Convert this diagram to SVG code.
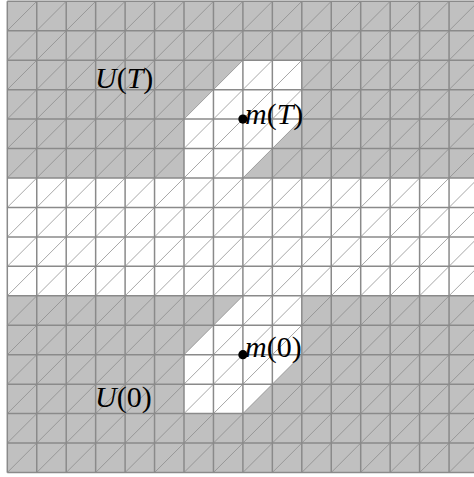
<svg xmlns="http://www.w3.org/2000/svg" width="474" height="477" viewBox="0 0 474 477">
  <style>
    .grid line { stroke: #8a8a8a; stroke-width: 1.5; vector-effect: non-scaling-stroke; }
    .diag line { stroke: #8a8a8a; stroke-width: 0.75; vector-effect: non-scaling-stroke; }
    .lbl { font-family: "Liberation Serif", "Times New Roman", serif; font-size: 30px; fill: #000; }
    .it { font-style: italic; }
  </style>
  <rect width="474" height="477" fill="#ffffff"/>
  <g id="mesh" transform="translate(7.3,1.3) scale(29.45)">
    <rect x="0" y="0" width="16" height="16" fill="#c0c0c0"/>
    <rect id="band" x="0" y="6" width="16" height="4" fill="#ffffff"/>
    <polygon id="region-T" points="8,2 10,2 10,4 8,6 6,6 6,4" fill="#ffffff"/>
    <polygon id="region-0" points="8,10 10,10 10,12 8,14 6,14 6,12" fill="#ffffff"/>
    <g class="diag">
      <line x1="0" y1="1" x2="1" y2="0"/>
      <line x1="0" y1="2" x2="2" y2="0"/>
      <line x1="0" y1="3" x2="3" y2="0"/>
      <line x1="0" y1="4" x2="4" y2="0"/>
      <line x1="0" y1="5" x2="5" y2="0"/>
      <line x1="0" y1="6" x2="6" y2="0"/>
      <line x1="0" y1="7" x2="7" y2="0"/>
      <line x1="0" y1="8" x2="8" y2="0"/>
      <line x1="0" y1="9" x2="9" y2="0"/>
      <line x1="0" y1="10" x2="10" y2="0"/>
      <line x1="0" y1="11" x2="11" y2="0"/>
      <line x1="0" y1="12" x2="12" y2="0"/>
      <line x1="0" y1="13" x2="13" y2="0"/>
      <line x1="0" y1="14" x2="14" y2="0"/>
      <line x1="0" y1="15" x2="15" y2="0"/>
      <line x1="0" y1="16" x2="16" y2="0"/>
      <line x1="1" y1="16" x2="16" y2="1"/>
      <line x1="2" y1="16" x2="16" y2="2"/>
      <line x1="3" y1="16" x2="16" y2="3"/>
      <line x1="4" y1="16" x2="16" y2="4"/>
      <line x1="5" y1="16" x2="16" y2="5"/>
      <line x1="6" y1="16" x2="16" y2="6"/>
      <line x1="7" y1="16" x2="16" y2="7"/>
      <line x1="8" y1="16" x2="16" y2="8"/>
      <line x1="9" y1="16" x2="16" y2="9"/>
      <line x1="10" y1="16" x2="16" y2="10"/>
      <line x1="11" y1="16" x2="16" y2="11"/>
      <line x1="12" y1="16" x2="16" y2="12"/>
      <line x1="13" y1="16" x2="16" y2="13"/>
      <line x1="14" y1="16" x2="16" y2="14"/>
      <line x1="15" y1="16" x2="16" y2="15"/>
    </g>
    <g class="grid">
      <line x1="0" y1="0" x2="0" y2="16"/>
      <line x1="1" y1="0" x2="1" y2="16"/>
      <line x1="2" y1="0" x2="2" y2="16"/>
      <line x1="3" y1="0" x2="3" y2="16"/>
      <line x1="4" y1="0" x2="4" y2="16"/>
      <line x1="5" y1="0" x2="5" y2="16"/>
      <line x1="6" y1="0" x2="6" y2="16"/>
      <line x1="7" y1="0" x2="7" y2="16"/>
      <line x1="8" y1="0" x2="8" y2="16"/>
      <line x1="9" y1="0" x2="9" y2="16"/>
      <line x1="10" y1="0" x2="10" y2="16"/>
      <line x1="11" y1="0" x2="11" y2="16"/>
      <line x1="12" y1="0" x2="12" y2="16"/>
      <line x1="13" y1="0" x2="13" y2="16"/>
      <line x1="14" y1="0" x2="14" y2="16"/>
      <line x1="15" y1="0" x2="15" y2="16"/>
      <line x1="16" y1="0" x2="16" y2="16"/>
      <line x1="0" y1="0" x2="16" y2="0"/>
      <line x1="0" y1="1" x2="16" y2="1"/>
      <line x1="0" y1="2" x2="16" y2="2"/>
      <line x1="0" y1="3" x2="16" y2="3"/>
      <line x1="0" y1="4" x2="16" y2="4"/>
      <line x1="0" y1="5" x2="16" y2="5"/>
      <line x1="0" y1="6" x2="16" y2="6"/>
      <line x1="0" y1="7" x2="16" y2="7"/>
      <line x1="0" y1="8" x2="16" y2="8"/>
      <line x1="0" y1="9" x2="16" y2="9"/>
      <line x1="0" y1="10" x2="16" y2="10"/>
      <line x1="0" y1="11" x2="16" y2="11"/>
      <line x1="0" y1="12" x2="16" y2="12"/>
      <line x1="0" y1="13" x2="16" y2="13"/>
      <line x1="0" y1="14" x2="16" y2="14"/>
      <line x1="0" y1="15" x2="16" y2="15"/>
      <line x1="0" y1="16" x2="16" y2="16"/>
    </g>
  </g>
  <g id="label-UT">
    <text class="lbl" x="95" y="88"><tspan class="it">U</tspan>(<tspan class="it">T</tspan>)</text>
  </g>
  <g id="node-mT">
    <circle cx="242.9" cy="119.1" r="4.6" fill="#000"/>
    <text class="lbl" x="245" y="124"><tspan class="it">m</tspan>(<tspan class="it">T</tspan>)</text>
  </g>
  <g id="node-m0">
    <circle cx="242.9" cy="354.7" r="4.6" fill="#000"/>
    <text class="lbl" x="245" y="357"><tspan class="it">m</tspan>(0)</text>
  </g>
  <g id="label-U0">
    <text class="lbl" x="95" y="407"><tspan class="it">U</tspan>(0)</text>
  </g>
</svg>
